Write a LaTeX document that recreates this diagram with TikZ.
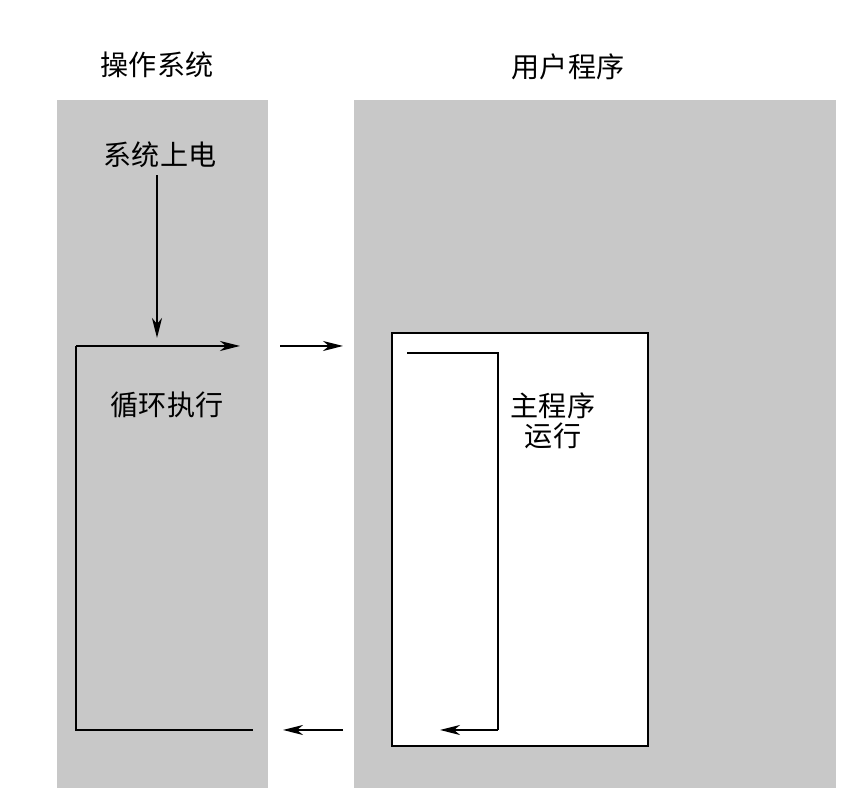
\documentclass[tikz,border=0pt]{standalone}
\usepackage{fontspec}
\usepackage{xcolor}
\setmainfont{Noto Sans CJK SC}
\usetikzlibrary{arrows.meta,calc,positioning}
\definecolor{panelGray}{HTML}{C8C8C8}
\tikzset{
  font=\fontsize{16}{20}\selectfont,
  arrow/.style={-{Stealth[length=4mm,width=2mm,inset=1.2mm]},draw=black,line width=1.1pt},
  wire/.style={draw=black,line width=1.1pt},
  panel/.style={rectangle,draw=none,fill=panelGray,anchor=south west,inner sep=0pt},
  userbox/.style={rectangle,draw=black,line width=1.1pt,fill=white,anchor=south west,inner sep=0pt},
  label/.style={inner sep=1pt,align=center},
}

\begin{document}
\begin{tikzpicture}[x=1cm,y=1cm]

\useasboundingbox[fill=white] (0,0) rectangle (17,16);

% two panels
\node[panel,minimum width=4.22cm,minimum height=13.76cm] (ospanel) at (1.14,0.24){};
\node[panel,minimum width=9.64cm,minimum height=13.76cm] (userpanel) at (7.08,0.24){};

\node[label] (ostitle) at (3.14,14.7) {操作系统};
\node[label] (usertitle) at (11.36,14.66) {用户程序};

% operating system side
\node[label] (power) at (3.2,12.9) {系统上电};
\coordinate (looptop) at (3.14,9.24);
\draw[arrow] (power.south) ++(-0.06,-0.1) -- (looptop);

\coordinate (loopstart) at (4.8,9.08);
\coordinate (loopcorner) at (1.52,9.08);
\coordinate (loopbottom) at (1.52,1.4);
\coordinate (loopend) at (5.06,1.4);
\draw[arrow] (loopcorner) -- (loopstart);
\draw[wire] (loopcorner) -- (loopbottom) -- (loopend);

\node[label] (oslabel) at (3.34,7.9) {循环执行};

% user program side
\node[userbox,minimum width=5.12cm,minimum height=8.26cm] (mainbox) at (7.82,1.06){};
\node[label] (mainlabel) at (11.06,7.58) {主程序\\[-3pt]运行};

\coordinate (mainstart) at (8.14,8.94);
\coordinate (maincorner) at (9.96,8.94);
\coordinate (mainbottom) at (9.96,1.4);
\coordinate (mainend) at (8.8,1.4);
\draw[wire] (mainstart) -- (maincorner) -- (mainbottom);
\draw[arrow] (mainbottom) -- (mainend);

% switching between them
\coordinate (callfrom) at (5.6,9.08);
\coordinate (callto) at (6.86,9.08);
\draw[arrow] (callfrom) -- (callto);
\coordinate (backfrom) at (6.86,1.4);
\coordinate (backto) at (5.66,1.4);
\draw[arrow] (backfrom) -- (backto);

\end{tikzpicture}
\end{document}
